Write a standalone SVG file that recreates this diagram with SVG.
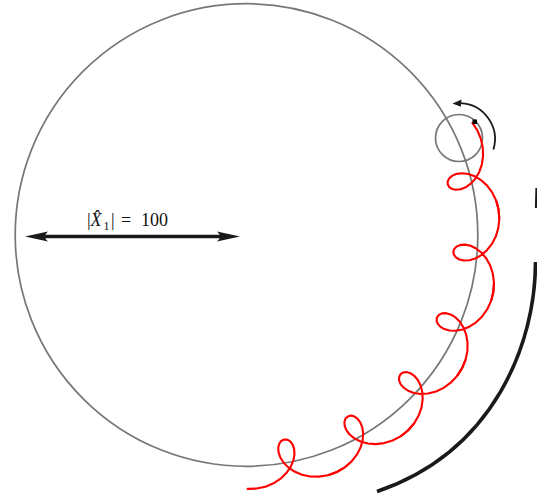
<svg xmlns="http://www.w3.org/2000/svg" width="537" height="497" viewBox="0 0 537 497">
  <style>
    .gray { fill: none; stroke: #777777; stroke-width: 1.7; }
    .red { fill: none; stroke: #ff0000; stroke-width: 2.1; stroke-linejoin: round; stroke-linecap: round; }
    .blk { fill: none; stroke: #1a1a1a; stroke-linecap: butt; }
    .lbl { font-family: "Liberation Serif", "DejaVu Serif", serif; font-size: 18px; fill: #111; }
  </style>
  <defs>
    <path id="period" class="red" d="M -53.59 -246.92 L -45.10 -249.84 -36.18 -251.20 -27.22 -250.94 -18.65 -249.11 -10.85 -245.86 -4.15 -241.44 1.20 -236.18 5.02 -230.46 7.26 -224.69 7.98 -219.28 7.33 -214.62 5.55 -211.03 2.98 -208.77 0 -208 -2.98 -208.77 -5.55 -211.03 -7.33 -214.62 -7.98 -219.28 -7.26 -224.69 -5.02 -230.46 -1.20 -236.18 4.15 -241.44 10.85 -245.86 18.65 -249.11 27.22 -250.94 36.18 -251.20 45.10 -249.84"/>
  </defs>
  <rect width="537" height="497" fill="#ffffff"/>

  <g id="big-circle">
    <circle class="gray" cx="246.5" cy="235" r="231.3"/>
  </g>

  <g id="small-circle">
    <circle class="gray" cx="459" cy="138" r="23.5" stroke="#666"/>
  </g>

  <g id="trajectory">
    <use href="#period" transform="translate(246 235) rotate(75.9)"/>
    <use href="#period" transform="translate(246 235) rotate(94.6)"/>
    <use href="#period" transform="translate(246 235) rotate(113.3)"/>
    <use href="#period" transform="translate(246 235) rotate(132.0)"/>
    <use href="#period" transform="translate(246 235) rotate(150.7)"/>
    <use href="#period" transform="translate(246 235) rotate(169.4)"/>
    <rect x="472.5" y="119.5" width="4.5" height="4.5" fill="#000"/>
  </g>

  <g id="rotation-arrow">
    <path class="blk" stroke-width="1.8" d="M 493.4 149.5 A 36 36 0 0 0 460.5 103.1"/>
    <polygon points="452.5,103.4 461.5,99.6 460.8,106.8" fill="#1a1a1a"/>
  </g>

  <g id="outer-arc">
    <path class="blk" stroke-width="3.6" d="M 535.5 262 C 535.5 342 495.3 451 377 491.5"/>
    <path class="blk" stroke-width="2" d="M 536.4 188 L 535.9 208"/>
  </g>

  <g id="radius-arrow">
    <line x1="40" y1="236.5" x2="225" y2="236.5" stroke="#1a1a1a" stroke-width="3.4"/>
    <path d="M 25 236.5 L 48 231.5 Q 42 236.5 48 241.5 Z" fill="#1a1a1a"/>
    <path d="M 240 236.5 L 217 231.5 Q 223 236.5 217 241.5 Z" fill="#1a1a1a"/>
  </g>

  <g id="label">
    <text class="lbl" y="226"><tspan x="87">|</tspan><tspan x="90.5" font-style="italic">X&#x302;</tspan><tspan x="103.5" y="229.5" font-size="12px">1</tspan><tspan x="111" y="226">|</tspan><tspan x="121">=</tspan><tspan x="141">100</tspan></text>
  </g>
</svg>
